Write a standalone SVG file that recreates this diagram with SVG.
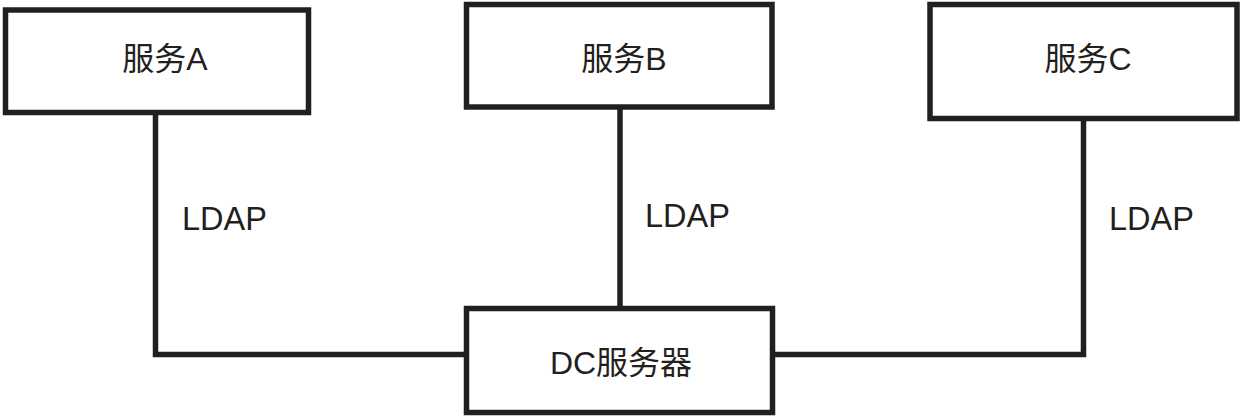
<svg xmlns="http://www.w3.org/2000/svg" width="1241" height="416" viewBox="0 0 1241 416">
<style>
.box{fill:#fff;stroke:#231f20;stroke-width:5.5}
.wire{fill:none;stroke:#231f20;stroke-width:5.5}
.lbl{font-family:"Liberation Sans","Noto Sans CJK SC",sans-serif;font-size:32px;fill:#231f20;text-anchor:middle}
.ldap{font-family:"Liberation Sans",sans-serif;font-size:32.5px;fill:#231f20}
</style>
<rect width="1241" height="416" fill="#fff"/>
<g id="connectors">
<polyline class="wire" points="155.5,112.5 155.5,354.5 466.5,354.5"/>
<line class="wire" x1="620" y1="107" x2="620" y2="308.5"/>
<polyline class="wire" points="1083.5,118.5 1083.5,354.5 772.5,354.5"/>
<text class="ldap" x="182" y="230">LDAP</text>
<text class="ldap" x="645" y="227">LDAP</text>
<text class="ldap" x="1109" y="230">LDAP</text>
</g>
<g id="serviceA">
<rect class="box" x="5.5" y="10" width="303" height="102.5"/>
<text class="lbl" x="165" y="70">服务A</text>
</g>
<g id="serviceB">
<rect class="box" x="466.5" y="4.5" width="305.5" height="102.5"/>
<text class="lbl" x="624" y="70">服务B</text>
</g>
<g id="serviceC">
<rect class="box" x="930" y="4.5" width="307" height="114"/>
<text class="lbl" x="1088" y="70">服务C</text>
</g>
<g id="dcServer">
<rect class="box" x="466.5" y="308.5" width="306" height="104"/>
<text class="lbl" x="621" y="374">DC服务器</text>
</g>
</svg>
